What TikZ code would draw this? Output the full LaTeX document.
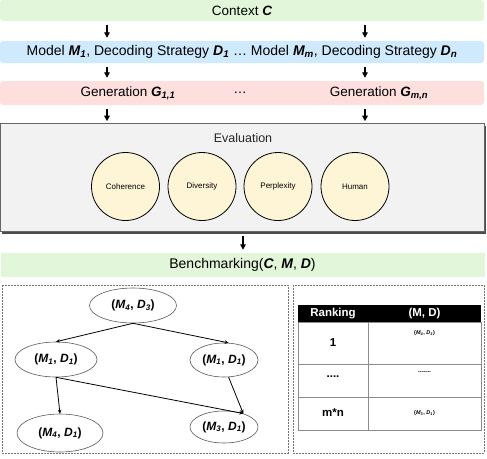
\documentclass[tikz,border=0pt]{standalone}
\usepackage{fontspec}
\setmainfont{Liberation Sans}
\usetikzlibrary{shapes.geometric,arrows.meta}
\definecolor{ctxgreen}{HTML}{E2F6D9}
\definecolor{mdlblue}{HTML}{CFEAFD}
\definecolor{genpink}{HTML}{FDE0DE}
\definecolor{evalgray}{HTML}{F2F2F2}
\definecolor{circfill}{HTML}{FEF5D6}
\newcommand{\bivar}[2]{{\bfseries\itshape #1\textsubscript{#2}}}
\newcommand{\bv}[1]{{\bfseries\itshape #1}}
\begin{document}
\begin{tikzpicture}[x=1pt,y=-1pt,
  bar/.style={draw=none,rounded corners=3pt,minimum width=484pt,inner sep=0pt,font=\fontsize{13.5}{16}\selectfont},
  arr/.style={-{Triangle[length=5.5pt,width=5.5pt]},line width=1.4pt,shorten <=4pt,shorten >=3pt},
  metric/.style={circle,draw=black,line width=0.8pt,fill=circfill,minimum size=68pt,inner sep=0pt,font=\fontsize{8}{9}\selectfont},
  pair/.style={ellipse,draw=black!65,line width=0.6pt,fill=white,inner sep=0pt,font=\fontsize{12}{14}\selectfont\bfseries},
  tarr/.style={-{Stealth[length=4pt,width=3.5pt]},line width=0.8pt},
  dbox/.style={draw=black!55,dashed,dash pattern=on 2pt off 1pt,line width=0.6pt},
  grid/.style={draw=black!45,line width=0.6pt},
  cell/.style={inner sep=0pt,font=\fontsize{11.5}{13}\selectfont\bfseries},
  small/.style={inner sep=0pt,font=\fontsize{5.5}{6}\selectfont\bfseries}
]
\useasboundingbox (0,0) rectangle (487,458);
\coordinate (c1) at (107,0);
\coordinate (c2) at (365,0);
\coordinate (c3) at (243,0);
% bars
\node[bar,fill=ctxgreen,minimum height=21pt] (ctx) at (242,10.5) {Context \bv{C}};
\node[bar,fill=mdlblue,minimum height=22pt,font=\fontsize{14}{16}\selectfont] (mdl) at (242,52) {Model \bivar{M}{1}, Decoding Strategy \bivar{D}{1} \dots\ Model \bivar{M}{m}, Decoding Strategy \bivar{D}{n}};
\node[bar,fill=genpink,minimum height=24pt] (gen) at (242,93) {};
\node[inner sep=0pt,font=\fontsize{13.5}{16}\selectfont] (g1) at (128,93) {Generation \bivar{G}{1,1}};
\node[inner sep=0pt,font=\fontsize{13.5}{16}\selectfont] (gd) at (240,93) {\dots};
\node[inner sep=0pt,font=\fontsize{13.5}{16}\selectfont] (g2) at (379,93) {Generation \bivar{G}{m,n}};
% evaluation box
\fill[black!70] (1.5,126) rectangle (485.5,233.5);
\node[draw=black!60,line width=0.6pt,fill=evalgray,minimum width=484pt,minimum height=108pt,inner sep=0pt] (eval) at (242,177.5) {};
\node[inner sep=0pt,font=\fontsize{12.5}{15}\selectfont,text=black!85] (evt) at (243,138) {Evaluation};
\node[metric] (coh) at (125.5,186.5) {Coherence};
\node[metric] (div) at (202,186.5) {Diversity};
\node[metric] (per) at (278,186.5) {Perplexity};
\node[metric] (hum) at (355,186.5) {Human};
% benchmarking
\node[bar,fill=ctxgreen,minimum height=24pt,rounded corners=0pt,font=\fontsize{14}{16}\selectfont] (bench) at (242.5,265) {Benchmarking(\bv{C}, \bv{M}, \bv{D})};
% arrows
\draw[arr] (ctx.south -| c1) -- (mdl.north -| c1);
\draw[arr] (ctx.south -| c2) -- (mdl.north -| c2);
\draw[arr] (mdl.south -| c1) -- (gen.north -| c1);
\draw[arr] (mdl.south -| c2) -- (gen.north -| c2);
\draw[arr,shorten >=2pt] (gen.south -| c1) -- (eval.north -| c1);
\draw[arr,shorten >=2pt] (gen.south -| c2) -- (eval.north -| c2);
\draw[arr] (eval.south -| c3) -- (bench.north -| c3);
% dashed boxes
\draw[dbox] (2,285) rectangle (288,453);
\draw[dbox] (293,285) rectangle (484,453);
% tree
\node[pair,minimum width=87pt,minimum height=35pt] (root) at (133,305.5) {(\textit{M}\textsubscript{\textit{4}}, \textit{D}\textsubscript{\textit{3}})};
\node[pair,minimum width=82pt,minimum height=35pt] (lm) at (56,359.5) {(\textit{M}\textsubscript{\textit{1}}, \textit{D}\textsubscript{\textit{1}})};
\node[pair,minimum width=68pt,minimum height=34pt] (rm) at (224,360) {(\textit{M}\textsubscript{\textit{1}}, \textit{D}\textsubscript{\textit{1}})};
\node[pair,minimum width=86pt,minimum height=38pt] (bl) at (60,433) {(\textit{M}\textsubscript{\textit{4}}, \textit{D}\textsubscript{\textit{1}})};
\node[pair,minimum width=68pt,minimum height=32pt] (br) at (224,427) {(\textit{M}\textsubscript{\textit{3}}, \textit{D}\textsubscript{\textit{1}})};
\draw[tarr] (root.south) -- (lm.north);
\draw[tarr] (root.south) -- (rm.75);
\draw[tarr] (lm.south) -- (bl.north);
\draw[tarr] (lm.south) -- (br.35);
\draw[tarr] (rm.-75) -- (br.35);
% table
\fill[black] (298,305) rectangle (481,322);
\draw[grid] (298,322) rectangle (481,430);
\draw[grid] (368,322) -- (368,430);
\draw[grid] (298,364) -- (481,364);
\draw[grid] (298,397) -- (481,397);
\node[cell,text=white] (h1) at (333,313.5) {Ranking};
\node[cell,text=white] (h2) at (424.5,313.5) {(M, D)};
\node[cell] (r1) at (333,343) {1};
\node[cell] (r2) at (333,377) {....};
\node[cell] (r3) at (333,413) {m*n};
\node[small] (v1) at (424.5,333) {(\textit{M}\textsubscript{\textit{4}}, \textit{D}\textsubscript{\textit{3}})};
\node[small] (v2) at (424.5,373) {{-}{-}{-}{-}{-}{-}{-}};
\node[small] (v3) at (424.5,413) {(\textit{M}\textsubscript{\textit{3}}, \textit{D}\textsubscript{\textit{1}})};
\end{tikzpicture}
\end{document}
